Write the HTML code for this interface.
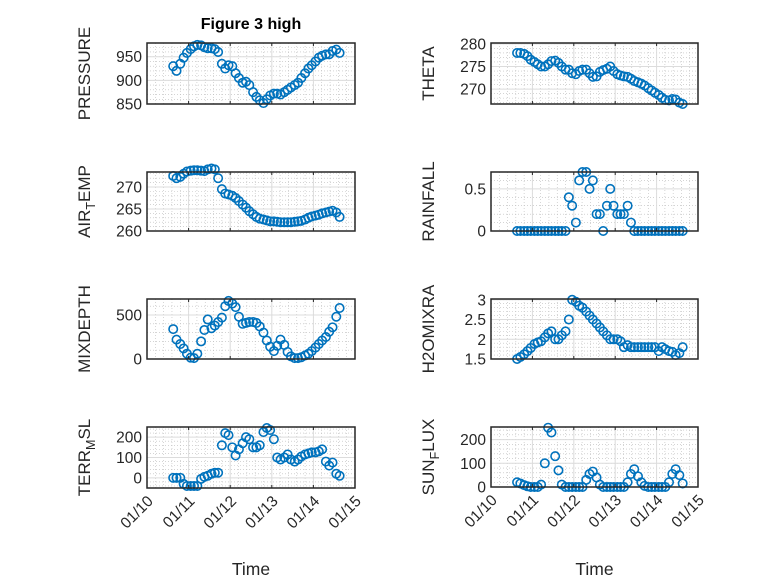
<!DOCTYPE html>
<html><head><meta charset="utf-8"><style>
body{margin:0;background:#fff}
svg{font-family:"Liberation Sans",sans-serif}
</style></head><body>
<svg id="fig" width="778" height="583" viewBox="0 0 778 583" xmlns="http://www.w3.org/2000/svg">
<rect width="778" height="583" fill="#fff"/>
<text x="251" y="29" text-anchor="middle" font-size="16" font-weight="bold" fill="#000">Figure 3 high</text>
</svg>
<script>
const times = [10.63,10.71,10.80,10.88,10.96,11.05,11.13,11.21,11.30,11.38,11.46,11.55,11.63,11.71,11.80,11.88,11.96,12.05,12.13,12.21,12.30,12.38,12.46,12.55,12.63,12.71,12.80,12.88,12.96,13.05,13.13,13.21,13.30,13.38,13.46,13.55,13.63,13.71,13.80,13.88,13.96,14.05,14.13,14.21,14.30,14.38,14.46,14.55,14.63];
const xTickDays = [10,11,12,13,14,15];
const xTickLabels = ["01/10","01/11","01/12","01/13","01/14","01/15"];
const pressure = [930,920,935,948,958,966,972,975,974,970,968,968,966,960,935,925,932,930,915,905,895,897,890,875,865,858,852,860,868,872,872,870,875,880,885,890,895,905,915,925,932,940,948,952,955,955,962,965,958];
const airTemp = [272.5,272,272.3,273,273.5,273.7,273.8,273.8,273.7,273.6,274,274.2,274,272,269.5,268.5,268.3,268,267.5,266.8,266,265.3,264.5,263.8,263.2,262.8,262.6,262.4,262.2,262.2,262.1,262,262,262,262,262.1,262.2,262.3,262.6,263,263.3,263.5,263.7,264,264.2,264.4,264.6,264.2,263.2];
const theta = [278,278,277.8,277.3,276.5,276,275.5,275,275,275.5,276.2,276.3,275.8,275,274.3,274.3,273.5,273.3,274,274.3,274.3,273.5,272.7,272.8,273.8,274.2,274.5,275,274,273.3,273,272.8,272.7,272.3,271.8,271.5,271.2,270.8,270.2,269.7,269.2,268.7,268.1,267.6,267.5,267.8,267.7,267,266.7];
const rainfall = [0,0,0,0,0,0,0,0,0,0,0,0,0,0,0,0.4,0.3,0.1,0.6,0.7,0.7,0.5,0.6,0.2,0.2,0,0.3,0.5,0.3,0.2,0.2,0.2,0.3,0.1,0,0,0,0,0,0,0,0,0,0,0,0,0,0,0];
const mixDepth = [340,220,170,120,60,15,10,60,200,330,450,350,380,420,470,600,660,630,590,480,400,410,420,420,410,370,300,210,140,90,150,220,160,80,30,10,10,20,40,60,90,130,170,210,250,310,360,480,580];
const h2oMix = [1.5,1.55,1.62,1.7,1.78,1.88,1.92,1.95,2.05,2.15,2.2,2.0,2.0,2.1,2.2,2.5,3.0,2.95,2.85,2.8,2.7,2.6,2.5,2.4,2.3,2.2,2.1,2.0,2.0,2.0,1.95,1.8,1.85,1.8,1.8,1.8,1.8,1.8,1.8,1.8,1.8,1.7,1.8,1.75,1.7,1.68,1.6,1.65,1.8];
const terrMsl = [0,0,0,-30,-40,-40,-40,-40,-5,5,10,20,25,25,160,220,210,150,110,140,170,200,190,150,150,160,225,245,235,190,100,90,100,115,90,80,90,105,115,120,125,125,130,140,80,60,75,20,10];
const sunFlux = [20,15,8,3,0,0,0,10,100,250,230,130,70,10,0,0,0,0,0,0,30,55,65,40,10,0,0,0,0,0,0,0,20,55,75,45,20,5,0,0,0,0,0,0,20,55,75,50,15];

const NS="http://www.w3.org/2000/svg";
const svg=document.getElementById('fig');
function mk(tag,attrs,parent){const e=document.createElementNS(NS,tag);for(const k in attrs)e.setAttribute(k,attrs[k]);(parent||svg).appendChild(e);return e;}

const panels=[
 {name:'pressure',data:pressure,x0:147,x1:355,y0:43,y1:104,ymin:850,ymax:979,ticks:[850,900,950],lab:['PRESSURE'],lx:90},
 {name:'theta',data:theta,x0:491,x1:698,y0:43,y1:104,ymin:266.7,ymax:280.2,ticks:[270,275,280],lab:['THETA'],lx:434},
 {name:'air-temp',data:airTemp,x0:147,x1:355,y0:172,y1:231,ymin:260,ymax:273.4,ticks:[260,265,270],lab:['AIR','T','EMP'],lx:90},
 {name:'rainfall',data:rainfall,x0:491,x1:698,y0:172,y1:231,ymin:0,ymax:0.7,ticks:[0,0.5],lab:['RAINFALL'],lx:434},
 {name:'mixdepth',data:mixDepth,x0:147,x1:355,y0:299,y1:359,ymin:0,ymax:682,ticks:[0,500],lab:['MIXDEPTH'],lx:90},
 {name:'h2omixra',data:h2oMix,x0:491,x1:698,y0:299,y1:359,ymin:1.5,ymax:3.02,ticks:[1.5,2,2.5,3],lab:['H2OMIXRA'],lx:434},
 {name:'terr-msl',data:terrMsl,x0:147,x1:355,y0:427,y1:488,ymin:-50,ymax:250,ticks:[0,100,200],lab:['TERR','M','SL'],lx:90,xt:true},
 {name:'sun-flux',data:sunFlux,x0:491,x1:698,y0:427,y1:487,ymin:0,ymax:253,ticks:[0,100,200],lab:['SUN','F','LUX'],lx:434,xt:true}
];

panels.forEach(p=>{
 const g=mk('g',{});
 
 
 const xs=d=>p.x0+(d-10)/5*(p.x1-p.x0);
 const ys=v=>p.y1-(v-p.ymin)/(p.ymax-p.ymin)*(p.y1-p.y0);
 mk('rect',{x:p.x0,y:p.y0,width:p.x1-p.x0,height:p.y1-p.y0,fill:'#fff'},g);
 for(let d=10;d<15;d+=0.2){const x=xs(d);mk('line',{x1:x,x2:x,y1:p.y0,y2:p.y1,stroke:'#bbb','stroke-width':0.6,'stroke-dasharray':'1 2'},g);}
 const step=p.ticks[1]-p.ticks[0];
 for(let v=p.ticks[0]-step;v<=p.ymax+step;v+=step/5){if(v>p.ymin&&v<p.ymax){const y=ys(v);mk('line',{x1:p.x0,x2:p.x1,y1:y,y2:y,stroke:'#bbb','stroke-width':0.6,'stroke-dasharray':'1 2'},g);}}
 xTickDays.forEach(d=>{const x=xs(d);mk('line',{x1:x,x2:x,y1:p.y0,y2:p.y1,stroke:'#dcdcdc','stroke-width':1},g);});
 p.ticks.forEach(v=>{const y=ys(v);mk('line',{x1:p.x0,x2:p.x1,y1:y,y2:y,stroke:'#dcdcdc','stroke-width':1},g);
   const t=mk('text',{x:p.x0-5,y:y+5.5,'text-anchor':'end','font-size':15.5,fill:'#262626'},g);t.textContent=String(v);
   
   });
 p.data.forEach((v,i)=>{const c=mk('circle',{cx:xs(times[i]),cy:ys(v),r:4.2,fill:'none',stroke:'#0072BD','stroke-width':1.6},g);
   
   });
 mk('rect',{x:p.x0,y:p.y0,width:p.x1-p.x0,height:p.y1-p.y0,fill:'none',stroke:'#262626','stroke-width':1.5},g);
 xTickDays.forEach(d=>{const x=xs(d);mk('line',{x1:x,x2:x,y1:p.y1,y2:p.y1-3,stroke:'#262626'},g);mk('line',{x1:x,x2:x,y1:p.y0,y2:p.y0+3,stroke:'#262626'},g);});
 const cy=(p.y0+p.y1)/2;
 const yl=mk('text',{x:p.lx,y:cy,transform:`rotate(-90 ${p.lx} ${cy})`,'text-anchor':'middle','font-size':17,fill:'#262626'},g);
 
 
 if(p.lab.length===1){yl.textContent=p.lab[0];}
 else{const a=mk('tspan',{},yl);a.textContent=p.lab[0];const b=mk('tspan',{dy:5,'font-size':12.5},yl);b.textContent=p.lab[1];const c=mk('tspan',{dy:-5},yl);c.textContent=p.lab[2];}
 if(p.xt){
  xTickDays.forEach((d,i)=>{const x=xs(d)+7,y=p.y1+14;
   const t=mk('text',{x:x,y:y,transform:`rotate(-45 ${x} ${y})`,'text-anchor':'end','font-size':15.5,fill:'#262626'},g);t.textContent=xTickLabels[i];
   
   });
  const xl=mk('text',{x:(p.x0+p.x1)/2,y:575,'text-anchor':'middle','font-size':17.5,fill:'#262626'},g);xl.textContent='Time';
  
  
 }
});
</script>
</body></html>
